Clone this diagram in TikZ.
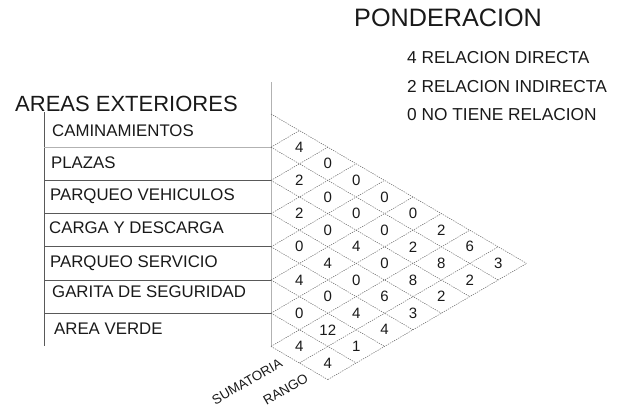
\documentclass[tikz,border=0pt]{standalone}
\usepackage{fontspec}
\setmainfont{Liberation Sans}
\begin{document}
\begin{tikzpicture}[x=1pt,y=-1pt,
  lbl/.style={anchor=base west, inner sep=0pt, text=black!90, font=\fontsize{16.8}{18}\selectfont},
  leg/.style={anchor=base west, inner sep=0pt, text=black!90, font=\fontsize{17.3}{19}\selectfont},
  num/.style={inner sep=0pt, text=black!90, font=\fontsize{15}{17}\selectfont},
  rot/.style={inner sep=0pt, rotate=30, text=black!90, font=\fontsize{13.4}{15}\selectfont},
  rowline/.style={draw=black!65, line width=0.7pt},
  frameline/.style={draw=black!30, line width=0.7pt},
  gridline/.style={draw=black!60, line width=0.5pt, dash pattern=on 1.3pt off 1.1pt}
]
\useasboundingbox (0,0) rectangle (619,408);
\def\xo{271}
\def\dx{28.4}
\def\yo{114}
\def\hh{33.2}

% titles and legend
\node[anchor=base west, inner sep=0pt, text=black!90, font=\fontsize{25.2}{27}\selectfont] (pond) at (354,26.7) {PONDERACION};
\node[leg] (l4) at (407,63.3) {4 RELACION DIRECTA};
\node[leg] (l2) at (407,92) {2 RELACION INDIRECTA};
\node[leg] (l0) at (407,120) {0 NO TIENE RELACION};
\node[anchor=base west, inner sep=0pt, text=black!90, font=\fontsize{22}{24}\selectfont] (areas) at (15,111) {AREAS EXTERIORES};

% row labels
\node[lbl] (r0) at (52,136.7) {CAMINAMIENTOS};
\node[lbl] (r1) at (51,168.3) {PLAZAS};
\node[lbl] (r2) at (50,200.7) {PARQUEO VEHICULOS};
\node[lbl] (r3) at (49,233.3) {CARGA Y DESCARGA};
\node[lbl] (r4) at (50,267) {PARQUEO SERVICIO};
\node[lbl] (r5) at (52,297) {GARITA DE SEGURIDAD};
\node[lbl] (r6) at (54,334.5) {AREA VERDE};

% table frame
\draw[rowline] (44,112) -- (44,346.4);
\draw[frameline] (\xo,82) -- (\xo,346.4);
\draw[frameline] (44,\yo+\hh) -- (\xo,\yo+\hh);
\foreach \k in {2,...,6} {
  \draw[rowline] (44,\yo+\hh*\k) -- (\xo,\yo+\hh*\k);
}

% diamond grid
\foreach \k in {0,...,7} {
  \pgfmathsetmacro\lenk{9-\k}
  \draw[gridline] (\xo,\yo+\hh*\k) -- ++(\dx*\lenk,0.5*\hh*\lenk);
}
\foreach \k in {1,...,9} {
  \pgfmathsetmacro\ts{max(0,\k-7)}
  \draw[gridline] (\xo+\dx*\ts,\yo+\hh*\k-0.5*\hh*\ts) -- (\xo+\dx*\k,\yo+0.5*\hh*\k);
}

% values
\foreach \i/\j/\v in {0/1/4,1/2/2,2/3/2,3/4/0,4/5/4,5/6/0,6/7/4,
  0/2/0,1/3/0,2/4/0,3/5/4,4/6/0,5/7/12,6/8/4,
  0/3/0,1/4/0,2/5/4,3/6/0,4/7/4,5/8/1,
  0/4/0,1/5/0,2/6/0,3/7/6,4/8/4,
  0/5/0,1/6/2,2/7/8,3/8/3,
  0/6/2,1/7/8,2/8/2,
  0/7/6,1/8/2,
  0/8/3} {
  \node[num] (n\i\j) at (\xo+\dx*\j-\dx*\i,\yo+0.5*\hh*\i+0.5*\hh*\j+0.5*\hh) {\v};
}

% rotated labels
\node[rot] (sum) at (247,381.5) {SUMATORIA};
\node[rot] (rango) at (285.5,389.5) {RANGO};
\end{tikzpicture}
\end{document}
